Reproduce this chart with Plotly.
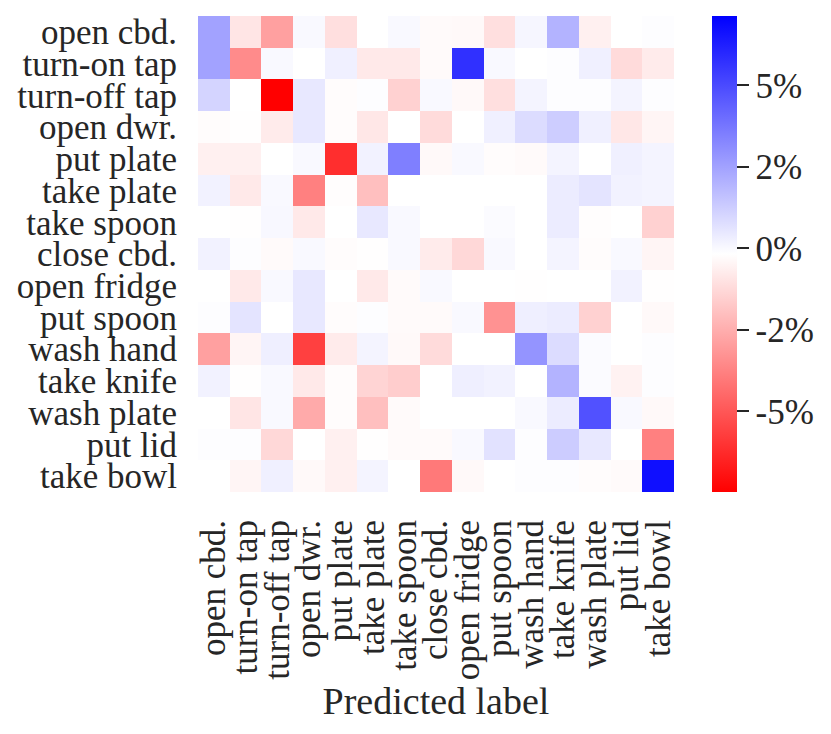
import plotly.graph_objects as go

labels = ["open cbd.", "turn-on tap", "turn-off tap", "open dwr.", "put plate",
          "take plate", "take spoon", "close cbd.", "open fridge", "put spoon",
          "wash hand", "take knife", "wash plate", "put lid", "take bowl"]

# difference in percent (rows: true label, cols: predicted label)
W = -0.17  # white cells
z = [
    [2.5, -0.9, -2.9, 0.0, -1.1, W, 0.0, -0.3, -0.35, -1.1, 0.1, 2.0, -0.6, W, -0.1],
    [2.5, -3.5, 0.0, W, 0.26, -0.8, -0.8, -0.3, 5.75, 0.0, W, -0.1, 0.26, -1.2, -0.75],
    [1.07, W, -7.47, 0.5, -0.25, -0.1, -1.5, 0.0, -0.35, -1.1, 0.15, -0.1, -0.1, 0.15, -0.1],
    [-0.25, -0.2, -0.75, 0.5, -0.25, -0.85, W, -1.2, W, 0.26, 0.83, 1.26, 0.26, -0.85, -0.45],
    [-0.6, -0.6, W, 0.0, -6.15, 0.2, 3.5, -0.35, 0.0, -0.25, -0.3, 0.15, W, 0.26, 0.15],
    [0.2, -0.8, 0.0, -3.8, -0.22, -2.0, W, W, W, W, W, 0.37, 0.6, 0.2, 0.15],
    [W, -0.2, 0.04, -0.8, W, 0.5, 0.0, W, W, -0.05, W, 0.37, -0.22, W, -1.5],
    [0.2, -0.1, -0.3, 0.0, -0.25, -0.2, 0.0, -0.75, -1.3, 0.0, W, 0.15, -0.25, 0.0, -0.45],
    [W, -0.8, 0.0, 0.5, W, -0.8, -0.3, 0.0, W, W, -0.2, W, W, 0.2, -0.2],
    [-0.1, 0.6, W, 0.5, -0.25, -0.1, -0.3, -0.3, 0.0, -3.3, 0.3, 0.37, -1.5, W, -0.35],
    [-2.9, -0.45, 0.3, -5.65, -0.75, 0.15, -0.35, -1.2, W, W, 2.9, 0.83, -0.05, W, -0.1],
    [0.2, -0.2, 0.0, -0.8, -0.25, -1.4, -1.6, W, 0.3, 0.2, W, 2.0, -0.05, -0.55, -0.1],
    [W, -0.9, 0.0, -2.6, -0.25, -2.0, -0.3, W, W, W, 0.0, 0.37, 4.8, 0.0, -0.35],
    [-0.1, -0.1, -1.3, W, -0.6, -0.2, -0.3, -0.3, 0.0, 0.65, -0.1, 1.3, 0.5, W, -3.8],
    [W, -0.45, 0.26, -0.35, -0.6, 0.15, W, -4.0, -0.35, W, -0.1, -0.1, -0.25, -0.3, 6.7],
]

z_min, z_max = -7.47, 7.13
cbar_vals = [-5, -2.5, 0, 2.5, 5]
cbar_text = ["-5%", "-2%", "0%", "2%", "5%"]

font_fam = "Liberation Serif"
txt_col = "#262626"

fig = go.Figure(go.Heatmap(
    z=z, x=labels, y=labels,
    zmin=z_min, zmax=z_max,
    colorscale=[[0, "rgb(255,0,0)"], [0.5, "rgb(255,255,255)"], [1, "rgb(0,0,255)"]],
    colorbar=dict(
        x=1.08, xanchor="left", y=0.5, yanchor="middle", len=1.0, lenmode="fraction",
        thickness=25, outlinewidth=0, ypad=0, xpad=0,
        tickvals=cbar_vals, ticktext=cbar_text,
        ticks="outside", ticklen=12, tickwidth=2, tickcolor=txt_col,
        tickfont=dict(family=font_fam, size=35, color=txt_col),
    ),
    hoverongaps=False,
))

fig.update_layout(
    width=815, height=718, autosize=False,
    margin=dict(l=190, r=149, t=8, b=234, pad=0),
    paper_bgcolor="white", plot_bgcolor="white",
    font=dict(family=font_fam, color=txt_col),
    xaxis=dict(
        tickangle=-90, ticks="", showgrid=False, zeroline=False, showline=False,
        tickmode="array", tickvals=labels, ticktext=labels, automargin=False,
        tickfont=dict(family=font_fam, size=35, color=txt_col),
        ticklabelstandoff=20,
        title=dict(text="Predicted label", font=dict(family=font_fam, size=38, color=txt_col), standoff=1),
    ),
    yaxis=dict(
        autorange="reversed", ticks="", showgrid=False, zeroline=False, showline=False,
        tickmode="array", tickvals=labels, ticktext=labels, automargin=False,
        tickfont=dict(family=font_fam, size=35, color=txt_col),
        ticklabelstandoff=20,
    ),
)

fig.write_html("out.html")
